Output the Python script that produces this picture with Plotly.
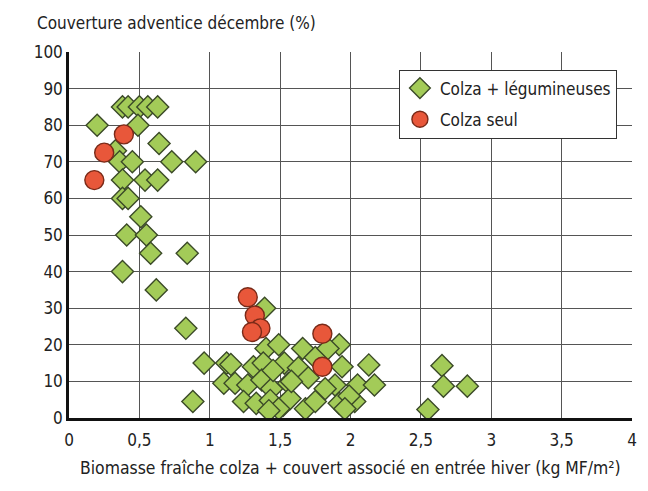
import plotly.graph_objects as go

# Colza + légumineuses (green diamonds)
leg_x = [0.38, 0.42, 0.50, 0.56, 0.63,
         0.20, 0.49, 0.64, 0.33,
         0.36, 0.45, 0.73, 0.90,
         0.38, 0.54, 0.63,
         0.38, 0.42, 0.51, 0.41, 0.55,
         0.58, 0.84, 0.38, 0.62, 0.83,
         0.96, 1.12, 0.88, 1.10, 1.18, 1.39,
         1.40, 1.49, 1.66, 1.15, 1.31, 1.38, 1.53, 1.63, 1.70,
         1.27, 1.37, 1.44, 1.56, 1.24, 1.33, 1.43, 1.52, 1.57, 1.68, 1.75, 1.49, 1.42,
         1.45, 1.58, 1.75, 1.92, 1.94, 1.89, 1.82, 1.92, 2.03, 2.05, 2.13, 2.17,
         1.84, 1.99, 1.96,
         2.65, 2.66, 2.83, 2.55]
leg_y = [85, 85, 85, 85, 85,
         80, 80, 75, 73,
         70, 70, 70, 70,
         65, 65, 65,
         60, 60, 55, 50, 50,
         45, 45, 40, 35, 24.5,
         15, 15, 4.5, 9.5, 9.5, 30,
         19, 20, 19, 14.6, 14, 15, 15, 13.7, 11,
         9, 10.4, 8, 9.5, 4.5, 4, 4.8, 3.4, 5.3, 2.5, 4.5, 2.5, 2,
         13, 10, 16.5, 20, 14, 9, 8, 4, 4.5, 9, 14.5, 9,
         19, 6, 2.5,
         14.3, 8.7, 8.7, 2.3]

# Colza seul (red circles)
seul_x = [0.18, 0.25, 0.39, 1.27, 1.32, 1.36, 1.30, 1.80, 1.80]
seul_y = [65, 72.5, 77.5, 33, 28, 24.5, 23.5, 23, 14]

x_ticks = [0, 0.5, 1, 1.5, 2, 2.5, 3, 3.5, 4]
x_tick_labels = ["0", "0,5", "1", "1,5", "2", "2,5", "3", "3,5", "4"]
y_ticks = [0, 10, 20, 30, 40, 50, 60, 70, 80, 90, 100]

FONT = "Liberation Sans Narrow, DejaVu Sans Condensed, Roboto Condensed, Arial Narrow, Liberation Sans, sans-serif"

fig = go.Figure()
fig.add_trace(go.Scatter(
    x=leg_x, y=leg_y, mode="markers", name="Colza + légumineuses",
    legendgroup="a",
    marker=dict(symbol="diamond", size=17, color="#A3CB58",
                line=dict(color="#3B4A28", width=1.4)),
))
fig.add_trace(go.Scatter(
    x=seul_x, y=seul_y, mode="markers", name="Colza seul",
    legendgroup="b",
    marker=dict(symbol="circle", size=19, color="#E8573A",
                line=dict(color="#7A2A18", width=1.4)),
))

fig.update_layout(
    width=640, height=483,
    margin=dict(l=61, r=11, t=44, b=73),
    paper_bgcolor="white", plot_bgcolor="white",
    font=dict(family=FONT, size=17, color="#222"),
    separators=", ",
    showlegend=True,
    legend=dict(x=0.586, y=0.952, xanchor="left", yanchor="top",
                bgcolor="white", bordercolor="#333", borderwidth=1,
                traceorder="grouped", tracegroupgap=6,
                font=dict(size=17, color="#222", family=FONT)),
    xaxis=dict(range=[0, 4], tickvals=x_ticks, ticktext=x_tick_labels,
               showgrid=True, gridcolor="#555", gridwidth=1,
               showline=True, linecolor="#111", linewidth=2.5,
               zeroline=False, ticks="", ticklen=0, ticklabelstandoff=5,
               tickfont=dict(size=17, color="#222")),
    yaxis=dict(range=[0, 100], tickvals=y_ticks,
               showgrid=True, gridcolor="#555", gridwidth=1,
               showline=True, linecolor="#111", linewidth=2.5,
               zeroline=False, ticks="", ticklen=0,
               tickfont=dict(size=17, color="#222")),
    annotations=[
        dict(text="Couverture adventice décembre (%)", xref="paper", yref="paper",
             x=-0.06, y=1.078, xanchor="left", yanchor="middle", showarrow=False,
             font=dict(size=17, color="#222", family=FONT)),
        dict(text="Biomasse fraîche colza + couvert associé en entrée hiver (kg MF/m²)",
             xref="paper", yref="paper", x=0.5, y=-0.137, xanchor="center",
             yanchor="middle", showarrow=False,
             font=dict(size=17.4, color="#222", family=FONT)),
    ],
)

fig.write_html("out.html")
